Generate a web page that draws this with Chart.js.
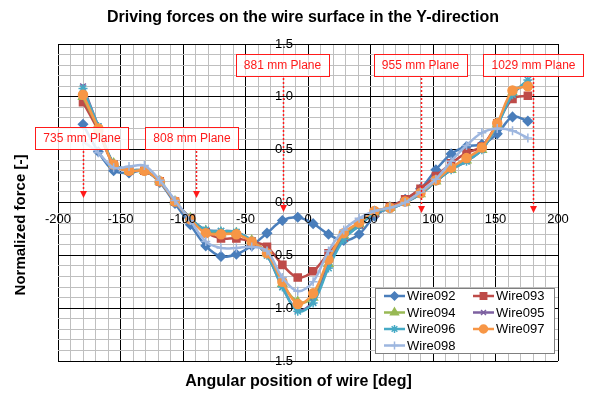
<!DOCTYPE html>
<html>
<head>
<meta charset="utf-8">
<script src="https://cdn.jsdelivr.net/npm/chart.js"></script>
<style>
  html, body { margin: 0; padding: 0; background: #fff; }
  #wrap { width: 590px; height: 394px; }
</style>
</head>
<body>
<div id="wrap"><canvas id="forceChart" width="590" height="394"></canvas></div>
<script>
// Driving forces on the wire surface, Y-direction (normalized)

const angles = [-180, -167.7, -155.5, -143.2, -130.9, -118.6, -106.4, -94.1, -81.8, -69.6,
  -57.3, -45.0, -32.8, -20.5, -8.2, 4.1, 16.4, 28.6, 40.9, 53.2,
  65.5, 77.7, 90.0, 102.3, 114.5, 126.8, 139.1, 151.4, 163.6, 175.9];

const wire092 = [0.74, 0.48, 0.30, 0.28, 0.30, 0.19, -0.01, -0.21, -0.41, -0.51,
  -0.49, -0.41, -0.29, -0.17, -0.14, -0.20, -0.30, -0.36, -0.30, -0.13,
  -0.04, 0.03, 0.13, 0.31, 0.46, 0.53, 0.55, 0.65, 0.81, 0.77];
const wire093 = [0.95, 0.68, 0.36, 0.30, 0.30, 0.20, 0.01, -0.15, -0.28, -0.34,
  -0.34, -0.37, -0.42, -0.59, -0.71, -0.65, -0.48, -0.33, -0.21, -0.10,
  -0.04, 0.03, 0.13, 0.25, 0.37, 0.47, 0.53, 0.75, 0.98, 1.01];
const wire094 = [1.00, 0.70, 0.37, 0.30, 0.30, 0.20, 0.01, -0.15, -0.27, -0.29,
  -0.29, -0.36, -0.48, -0.77, -0.94, -0.90, -0.58, -0.31, -0.20, -0.09,
  -0.05, 0.00, 0.08, 0.20, 0.31, 0.40, 0.50, 0.74, 1.04, 1.12];
const wire095 = [1.10, 0.72, 0.37, 0.31, 0.30, 0.20, 0.01, -0.15, -0.26, -0.27,
  -0.28, -0.36, -0.50, -0.80, -1.02, -0.94, -0.60, -0.34, -0.22, -0.10,
  -0.06, 0.00, 0.08, 0.20, 0.31, 0.39, 0.50, 0.73, 1.03, 1.13];
const wire096 = [1.08, 0.72, 0.37, 0.31, 0.30, 0.20, 0.01, -0.15, -0.26, -0.27,
  -0.28, -0.36, -0.50, -0.80, -1.03, -0.95, -0.62, -0.35, -0.22, -0.10,
  -0.06, 0.00, 0.08, 0.20, 0.31, 0.39, 0.50, 0.73, 1.02, 1.16];
const wire097 = [1.02, 0.70, 0.36, 0.30, 0.30, 0.20, 0.01, -0.16, -0.29, -0.30,
  -0.30, -0.37, -0.48, -0.75, -0.96, -0.86, -0.54, -0.29, -0.19, -0.08,
  -0.05, 0.01, 0.09, 0.21, 0.33, 0.42, 0.52, 0.75, 1.06, 1.10];
const wire098 = [0.58, 0.47, 0.33, 0.34, 0.35, 0.21, 0.02, -0.17, -0.37, -0.43,
  -0.43, -0.42, -0.46, -0.71, -0.84, -0.75, -0.46, -0.26, -0.15, -0.08,
  -0.05, 0.00, 0.10, 0.22, 0.39, 0.54, 0.66, 0.70, 0.68, 0.61];

const seriesNames = ["Wire092", "Wire093", "Wire094", "Wire095", "Wire096", "Wire097", "Wire098"];
const xTickLabels = [-200, -150, -100, -50, 0, 50, 100, 150, 200];
const yTickLabels = [1.5, 1.0, 0.5, 0.0, -0.5, -1.0, -1.5];
const planeLabels = ["735 mm Plane", "808 mm Plane", "881 mm Plane", "955 mm Plane", "1029 mm Plane"];
const planeAngles = [-180, -90, -20, 90, 180];

const FONT = '"Liberation Sans", Arial, sans-serif';
const RED = "#ff1a1a";

const styles = [
  { color: "#4A7EBB", point: "rectRot", r: 4.5 },
  { color: "#BE4B48", point: "rect", r: 5 },
  { color: "#98B954", point: "triangle", r: 5 },
  { color: "#7D60A0", point: "crossRot", r: 4 },
  { color: "#46AAC5", point: "star", r: 4.5 },
  { color: "#F79646", point: "circle", r: 4.5 },
  { color: "#9DB6DF", point: "cross", r: 4.5 },
];
const allSeries = [wire092, wire093, wire094, wire095, wire096, wire097, wire098];

const datasets = allSeries.map((vals, i) => ({
  label: seriesNames[i],
  data: vals.map((v, k) => ({ x: angles[k], y: v })),
  borderColor: styles[i].color,
  backgroundColor: styles[i].color,
  borderWidth: 2.5,
  tension: 0.35,
  pointStyle: styles[i].point,
  pointRadius: styles[i].r,
  pointBackgroundColor: styles[i].color,
  pointBorderColor: styles[i].color,
  pointBorderWidth: 1.5,
  order: allSeries.length - i, // later series drawn on top, like Excel
}));

const isMajor = (v, step) => Math.abs(v / step - Math.round(v / step)) < 1e-6;

// labels on the centred axes, plane markers, legend and titles
const decor = {
  id: "decor",
  afterDatasetsDraw(chart) {
    const { ctx, scales } = chart;
    const xs = scales.x, ys = scales.y;
    const x0 = xs.getPixelForValue(0);
    const y0 = ys.getPixelForValue(0);
    ctx.save();

    // tick labels
    ctx.fillStyle = "#000";
    ctx.font = "13px " + FONT;
    ctx.textBaseline = "middle";
    ctx.textAlign = "center";
    xTickLabels.forEach((v) => ctx.fillText(String(v), xs.getPixelForValue(v), y0 + 17));
    ctx.textAlign = "right";
    yTickLabels.forEach((v) => ctx.fillText(v.toFixed(1), x0 - 15, ys.getPixelForValue(v)));

    // plane annotations
    const boxTop = [127, 127, 54, 54, 54];
    const boxShift = [-1.5, -4.5, -1, -1, 0];
    const tipY = [198, 198, 212, 213, 213];
    ctx.font = "12px " + FONT;
    ctx.textAlign = "center";
    planeLabels.forEach((txt, i) => {
      const ax = Math.round(xs.getPixelForValue(planeAngles[i])) + 0.5;
      const w = ctx.measureText(txt).width + 16;
      const cx = ax + boxShift[i];
      const top = boxTop[i], h = 22;
      ctx.fillStyle = "rgba(255,255,255,0.85)";
      ctx.fillRect(cx - w / 2, top, w, h);
      ctx.strokeStyle = RED;
      ctx.lineWidth = 1;
      ctx.setLineDash([]);
      ctx.strokeRect(Math.round(cx - w / 2) + 0.5, top + 0.5, Math.round(w), h);
      ctx.fillStyle = RED;
      ctx.fillText(txt, cx, top + h / 2 + 0.5);
      // dotted arrow
      ctx.lineWidth = 1.5;
      ctx.setLineDash([2, 2]);
      ctx.beginPath();
      ctx.moveTo(ax, top + h + 2);
      ctx.lineTo(ax, tipY[i] - 6);
      ctx.stroke();
      ctx.setLineDash([]);
      ctx.beginPath();
      ctx.moveTo(ax - 3.5, tipY[i] - 7);
      ctx.lineTo(ax + 3.5, tipY[i] - 7);
      ctx.lineTo(ax, tipY[i]);
      ctx.closePath();
      ctx.fill();
    });

    // legend
    const lx = 375, ly = 288, lw = 179, lh = 65;
    ctx.fillStyle = "#fff";
    ctx.fillRect(lx, ly, lw, lh);
    ctx.strokeStyle = "#7f7f7f";
    ctx.lineWidth = 1;
    ctx.strokeRect(lx + 0.5, ly + 0.5, lw, lh);
    ctx.font = "13px " + FONT;
    ctx.textAlign = "left";
    const drawPoint = Chart.helpers && Chart.helpers.drawPoint;
    chart.data.datasets.forEach((ds, i) => {
      const col = i % 2, row = Math.floor(i / 2);
      const sx = col === 0 ? 384 : 473;
      const sy = 296 + row * 16.5;
      ctx.strokeStyle = ds.borderColor;
      ctx.fillStyle = ds.borderColor;
      ctx.lineWidth = 2.5;
      ctx.beginPath();
      ctx.moveTo(sx, sy);
      ctx.lineTo(sx + 21, sy);
      ctx.stroke();
      ctx.lineWidth = 1.5;
      if (drawPoint) {
        drawPoint(ctx, { pointStyle: ds.pointStyle, rotation: 0, radius: ds.pointRadius - 0.5, borderWidth: 1.5 }, sx + 10.5, sy);
      }
      ctx.fillStyle = "#000";
      ctx.fillText(ds.label, sx + 23, sy + 0.5);
    });

    // titles
    ctx.fillStyle = "#000";
    ctx.textAlign = "center";
    ctx.font = "bold 16px " + FONT;
    ctx.fillText("Driving forces on the wire surface in the Y-direction", 303, 17.5);
    ctx.fillText("Angular position of wire [deg]", 298.5, 382);
    ctx.translate(21, 225);
    ctx.rotate(-Math.PI / 2);
    ctx.font = "bold 15px " + FONT;
    ctx.fillText("Normalized force [-]", 0, 0);
    ctx.restore();
  },
};

const ctx = document.getElementById("forceChart").getContext("2d");
new Chart(ctx, {
  type: "line",
  data: { datasets: datasets },
  options: {
    responsive: false,
    devicePixelRatio: 1,
    animation: false,
    layout: { padding: { top: 44, left: 58, right: 32, bottom: 33 } },
    plugins: {
      legend: { display: false },
      tooltip: { enabled: false },
    },
    scales: {
      x: {
        type: "linear",
        min: -200,
        max: 200,
        ticks: { display: false, stepSize: 10 },
        grid: {
          drawTicks: false,
          lineWidth: 1,
          color: (c) => (isMajor(c.tick.value, 50) ? "#000" : "#bfbfbf"),
        },
        border: { display: false },
        afterFit: (s) => { s.height = 0; },
      },
      y: {
        type: "linear",
        min: -1.5,
        max: 1.5,
        ticks: { display: false, stepSize: 0.1 },
        grid: {
          drawTicks: false,
          lineWidth: 1,
          color: (c) => (isMajor(c.tick.value, 0.5) ? "#000" : "#bfbfbf"),
        },
        border: { display: false },
        afterFit: (s) => { s.width = 0; },
      },
    },
  },
  plugins: [decor],
});
</script>
</body>
</html>
